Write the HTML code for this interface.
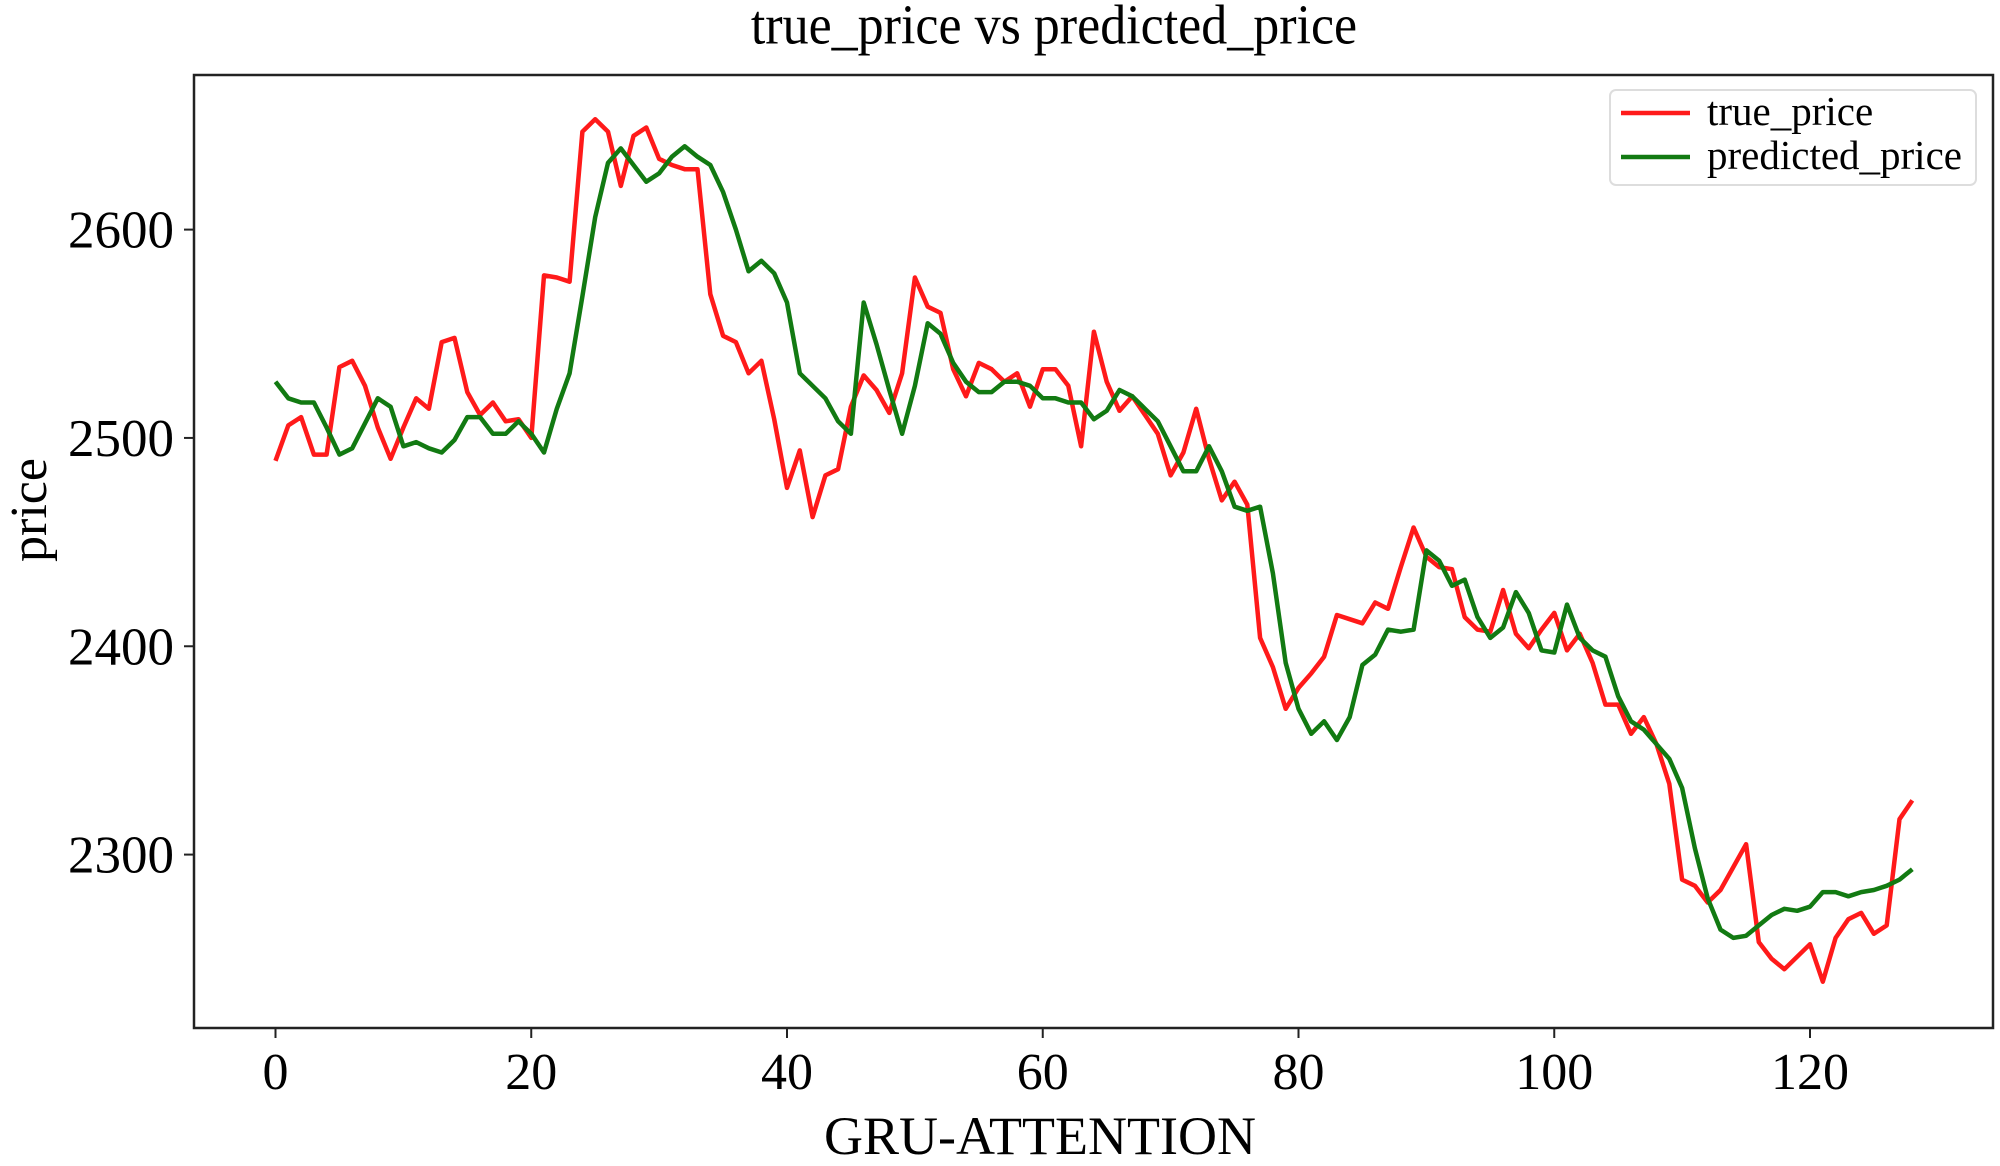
<!DOCTYPE html>
<html><head><meta charset="utf-8"><style>
html,body{margin:0;padding:0;background:#fff;}
svg{display:block;font-family:"Liberation Serif",serif;}
</style></head><body>
<svg id="chart" width="2000" height="1166" viewBox="0 0 2000 1166" xmlns="http://www.w3.org/2000/svg">
<rect width="2000" height="1166" fill="#fff"/>
<text x="1054" y="44" font-size="52" text-anchor="middle" transform="translate(0,-4) scale(1,1.08)">true_price vs predicted_price</text>
<g id="xticks"></g><g id="yticks"></g>
<g id="lines"></g>
<rect x="194" y="75" width="1799" height="953" fill="none" stroke="#222" stroke-width="2.5"/>
<text x="1040" y="1154" font-size="54" text-anchor="middle">GRU-ATTENTION</text>
<text transform="translate(46,510) rotate(-90)" font-size="52" text-anchor="middle">price</text>
<g>
<rect x="1610" y="90" width="366" height="95" rx="6" fill="#fff" stroke="#ddd" stroke-width="2"/>
<line x1="1621" y1="113" x2="1690" y2="113" stroke="#ff1a1a" stroke-width="4.5"/>
<text x="1707" y="125" font-size="41">true_price</text>
<line x1="1621" y1="157" x2="1690" y2="157" stroke="#127a12" stroke-width="4.5"/>
<text x="1707" y="169" font-size="41">predicted_price</text>
</g>
</svg>
<script>
const xTicks=[0,20,40,60,80,100,120];
const yTicks=[2300,2400,2500,2600];
const truePrice=[2489,2506,2510,2492,2492,2534,2537,2525,2505,2490,2505,2519,2514,2546,2548,2522,2511,2517,2508,2509,2500,2578,2577,2575,2647,2653,2647,2621,2645,2649,2634,2631,2629,2629,2569,2549,2546,2531,2537,2509,2476,2494,2462,2482,2485,2515,2530,2523,2512,2531,2577,2563,2560,2533,2520,2536,2533,2527,2531,2515,2533,2533,2525,2496,2551,2527,2513,2520,2511,2502,2482,2493,2514,2490,2470,2479,2468,2404,2390,2370,2380,2387,2395,2415,2413,2411,2421,2418,2438,2457,2443,2438,2437,2414,2408,2407,2427,2406,2399,2408,2416,2398,2406,2392,2372,2372,2358,2366,2353,2334,2288,2285,2277,2283,2294,2305,2258,2250,2245,2251,2257,2239,2260,2269,2272,2262,2266,2317,2326];
const predictedPrice=[2527,2519,2517,2517,2505,2492,2495,2507,2519,2515,2496,2498,2495,2493,2499,2510,2510,2502,2502,2508,2502,2493,2514,2531,2568,2606,2632,2639,2631,2623,2627,2635,2640,2635,2631,2618,2600,2580,2585,2579,2565,2531,2525,2519,2508,2502,2565,2545,2523,2502,2525,2555,2550,2536,2527,2522,2522,2527,2527,2525,2519,2519,2517,2517,2509,2513,2523,2520,2514,2508,2496,2484,2484,2496,2484,2467,2465,2467,2435,2392,2370,2358,2364,2355,2366,2391,2396,2408,2407,2408,2446,2441,2429,2432,2414,2404,2409,2426,2416,2398,2397,2420,2404,2398,2395,2376,2364,2360,2353,2346,2332,2303,2279,2264,2260,2261,2266,2271,2274,2273,2275,2282,2282,2280,2282,2283,2285,2288,2293];
const NS='http://www.w3.org/2000/svg';
function xs(v){return 275.5+(1810-275.5)*v/120;}
function ys(v){return 229.6+(2600-v)*2.0833;}
const xg=document.getElementById('xticks'),yg=document.getElementById('yticks'),lg=document.getElementById('lines');
xTicks.forEach(t=>{
  const l=document.createElementNS(NS,'line');
  l.setAttribute('x1',xs(t));l.setAttribute('x2',xs(t));l.setAttribute('y1',1028);l.setAttribute('y2',1038);l.setAttribute('stroke','#222');l.setAttribute('stroke-width','2');
  
  
  xg.appendChild(l);
  const s=document.createElementNS(NS,'text');
  s.setAttribute('x',xs(t));s.setAttribute('y',1089);s.setAttribute('font-size','52');s.setAttribute('text-anchor','middle');s.textContent=t;
  
  
  xg.appendChild(s);
});
yTicks.forEach(t=>{
  const l=document.createElementNS(NS,'line');
  l.setAttribute('x1',184);l.setAttribute('x2',194);l.setAttribute('y1',ys(t));l.setAttribute('y2',ys(t));l.setAttribute('stroke','#222');l.setAttribute('stroke-width','2');
  
  
  yg.appendChild(l);
  const s=document.createElementNS(NS,'text');
  s.setAttribute('x',174);s.setAttribute('y',ys(t)+18);s.setAttribute('font-size','53');s.setAttribute('text-anchor','end');s.textContent=t;
  
  
  yg.appendChild(s);
});
function drawLine(arr,color,name){
  const p=document.createElementNS(NS,'polyline');
  p.setAttribute('points',arr.map((v,i)=>xs(i).toFixed(1)+','+ys(v).toFixed(1)).join(' '));
  p.setAttribute('fill','none');p.setAttribute('stroke',color);p.setAttribute('stroke-width','4.5');p.setAttribute('stroke-linejoin','round');
  
  
  lg.appendChild(p);
}
drawLine(truePrice,'#ff1a1a','true-price-line');
drawLine(predictedPrice,'#127a12','predicted-price-line');
</script>
</body></html>
